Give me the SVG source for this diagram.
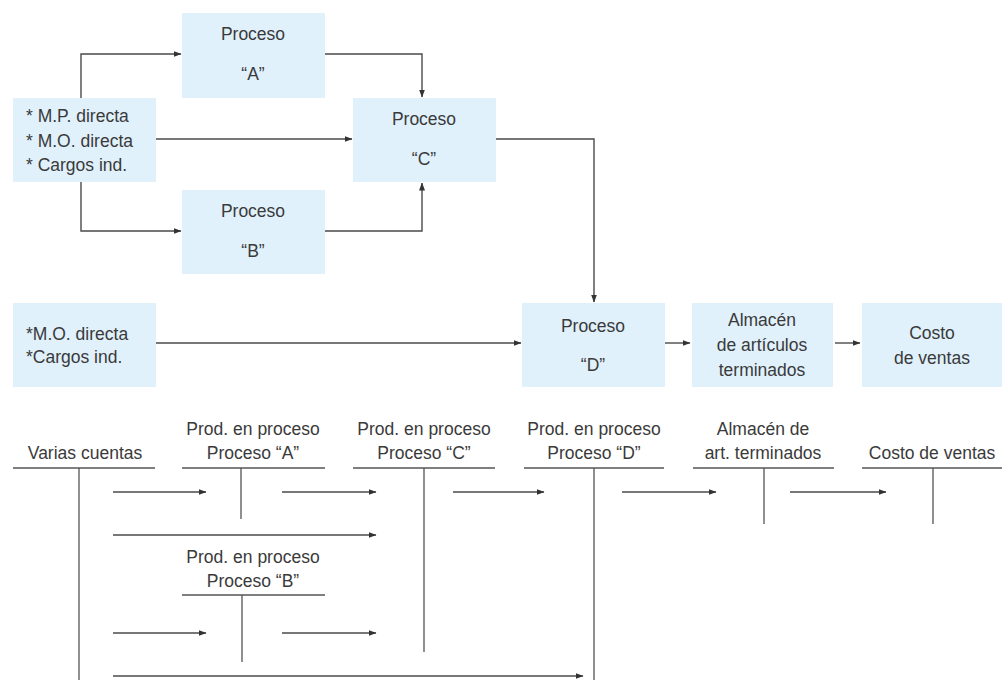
<svg xmlns="http://www.w3.org/2000/svg" width="1002" height="680" viewBox="0 0 1002 680">
  <defs>
    <marker id="arrow" markerWidth="8" markerHeight="6" refX="7.5" refY="3" orient="auto" markerUnits="userSpaceOnUse">
      <path d="M0,0 L8,3 L0,6 Z" fill="#333"/>
    </marker>
    <style>
      .box { fill: #e0f1fc; }
      .t { font-family: "Liberation Sans", Arial, sans-serif; font-size: 17.5px; fill: #3a3a3a; }
      .c { text-anchor: middle; }
      .ln { fill: none; stroke: #4a4a4a; stroke-width: 1.4; }
      .ar { fill: none; stroke: #4a4a4a; stroke-width: 1.4; marker-end: url(#arrow); }
      .acct { fill: none; stroke: #555; stroke-width: 1.3; }
    </style>
  </defs>
  <rect width="1002" height="680" fill="#ffffff"/>

  <!-- Flow of costs between processes -->
  <g id="insumos-1">
    <rect class="box" x="13" y="98" width="143" height="84"/>
    <text class="t" x="26" y="122">* M.P. directa</text>
    <text class="t" x="26" y="147">* M.O. directa</text>
    <text class="t" x="26" y="171">* Cargos ind.</text>
  </g>
  <g id="proceso-a">
    <rect class="box" x="182" y="13" width="143" height="85"/>
    <text class="t c" x="253" y="40">Proceso</text>
    <text class="t c" x="253" y="80">“A”</text>
  </g>
  <g id="proceso-b">
    <rect class="box" x="182" y="190" width="143" height="84"/>
    <text class="t c" x="253" y="217">Proceso</text>
    <text class="t c" x="253" y="257">“B”</text>
  </g>
  <g id="proceso-c">
    <rect class="box" x="353" y="98" width="143" height="84"/>
    <text class="t c" x="424" y="125">Proceso</text>
    <text class="t c" x="424" y="165">“C”</text>
  </g>
  <g id="insumos-2">
    <rect class="box" x="13" y="303" width="143" height="84"/>
    <text class="t" x="26" y="340">*M.O. directa</text>
    <text class="t" x="26" y="363">*Cargos ind.</text>
  </g>
  <g id="proceso-d">
    <rect class="box" x="522" y="303" width="143" height="84"/>
    <text class="t c" x="593" y="332">Proceso</text>
    <text class="t c" x="593" y="371">“D”</text>
  </g>
  <g id="almacen">
    <rect class="box" x="692" y="303" width="141" height="84"/>
    <text class="t c" x="762" y="326">Almacén</text>
    <text class="t c" x="762" y="351">de artículos</text>
    <text class="t c" x="762" y="376">terminados</text>
  </g>
  <g id="costo-ventas">
    <rect class="box" x="862" y="303" width="140" height="84"/>
    <text class="t c" x="932" y="339">Costo</text>
    <text class="t c" x="932" y="364">de ventas</text>
  </g>

  <g id="connectors">
    <path class="ar" d="M81,98 V54 H181"/>
    <path class="ar" d="M81,182 V231 H181"/>
    <path class="ar" d="M156,139 H352"/>
    <path class="ar" d="M325,54 H422 V97"/>
    <path class="ar" d="M325,231 H422 V183"/>
    <path class="ar" d="M496,139 H594 V302"/>
    <path class="ar" d="M156,343 H521"/>
    <path class="ar" d="M665,343 H690"/>
    <path class="ar" d="M835,343 H860"/>
  </g>

  <!-- T accounts -->
  <g id="cuenta-varias">
    <text class="t c" x="85" y="459">Varias cuentas</text>
    <path class="acct" d="M13,468 H155 M79,468 V680"/>
  </g>
  <g id="cuenta-a">
    <text class="t c" x="253" y="435">Prod. en proceso</text>
    <text class="t c" x="253" y="459">Proceso “A”</text>
    <path class="acct" d="M182,468 H325 M241,468 V519"/>
  </g>
  <g id="cuenta-c">
    <text class="t c" x="424" y="435">Prod. en proceso</text>
    <text class="t c" x="424" y="459">Proceso “C”</text>
    <path class="acct" d="M353,468 H495 M424,468 V652"/>
  </g>
  <g id="cuenta-b">
    <text class="t c" x="253" y="563">Prod. en proceso</text>
    <text class="t c" x="253" y="587">Proceso “B”</text>
    <path class="acct" d="M182,595 H325 M242,595 V662"/>
  </g>
  <g id="cuenta-d">
    <text class="t c" x="594" y="435">Prod. en proceso</text>
    <text class="t c" x="594" y="459">Proceso “D”</text>
    <path class="acct" d="M524,468 H664 M594,468 V680"/>
  </g>
  <g id="cuenta-almacen">
    <text class="t c" x="763" y="435">Almacén de</text>
    <text class="t c" x="763" y="459">art. terminados</text>
    <path class="acct" d="M693,468 H834 M764,468 V524"/>
  </g>
  <g id="cuenta-costo">
    <text class="t c" x="932" y="459">Costo de ventas</text>
    <path class="acct" d="M862,468 H1002 M933,468 V524"/>
  </g>

  <g id="connectors-cuentas">
    <path class="ar" d="M113,492 H206"/>
    <path class="ar" d="M282,492 H376"/>
    <path class="ar" d="M453,492 H544"/>
    <path class="ar" d="M622,492 H716"/>
    <path class="ar" d="M790,492 H886"/>
    <path class="ar" d="M113,535 H376"/>
    <path class="ar" d="M113,633 H206"/>
    <path class="ar" d="M282,633 H376"/>
    <path class="ar" d="M113,676 H583"/>
  </g>
</svg>
